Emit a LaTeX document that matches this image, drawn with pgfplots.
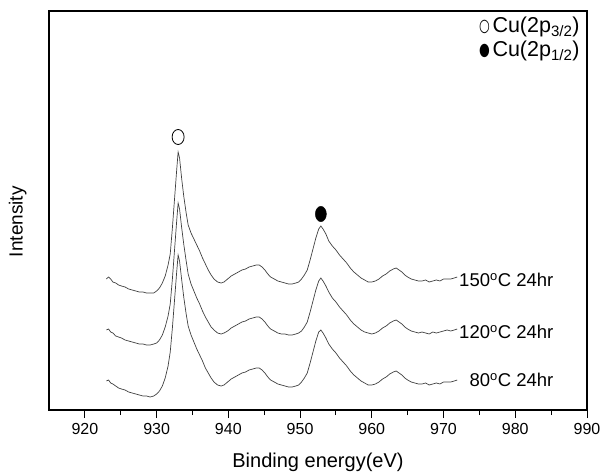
\documentclass[border=0pt]{standalone}
\usepackage{fontspec}
\setmainfont{Liberation Sans}
\newfontfamily\symfont{DejaVu Sans}
\usepackage{graphicx}
\usepackage{pgfplots}
\usepackage{pgfplotstable}
\pgfplotsset{compat=1.18}

% x = binding energy (eV); t/m/b = 150, 120, 80 C traces (arbitrary intensity, stacked)
\pgfplotstableread{
x     t   m   b
923.0 131 80 29
923.3 133 81 30
923.6 131 78 27
923.9 128 77 26
924.3 127 74 24
924.7 125 73 22
925.1 124 72 21
925.6 123 70 20
926.1 121 69 18
926.6 120 68 17
927.1 119 67 16
927.6 118 66 15
928.1 118 66 14
928.6 117 65 14
929.1 117 65 13
929.6 117 66 14
930.0 119 67 16
930.4 122 70 19
930.8 127 75 24
931.2 134 83 32
931.6 145 94 44
931.9 156 106 58
932.2 182 131 82
932.5 211 160 110
932.8 240 189 138
933.0 258 207 155
933.2 252 201 149
933.5 231 182 130
933.8 213 165 112
934.1 198 150 97
934.4 185 136 84
934.8 177 126 75
935.2 171 119 68
935.6 165 112 61
936.0 159 106 55
936.4 152 99 49
936.8 146 93 42
937.2 140 88 37
937.6 135 83 32
938.0 131 80 28
938.5 128 77 25
939.0 127 76 24
939.4 128 77 25
939.9 131 79 28
940.4 134 82 31
940.9 136 84 33
941.4 138 86 35
941.9 140 88 37
942.4 141 89 38
942.9 143 91 40
943.4 144 92 41
943.9 145 93 42
944.3 145 93 42
944.7 143 91 40
945.1 140 88 37
945.5 136 84 33
945.9 133 81 30
946.4 131 79 28
946.9 129 77 26
947.4 128 76 25
947.9 127 76 24
948.4 126 75 23
948.9 126 75 23
949.4 127 76 24
949.8 128 77 25
950.2 131 79 28
950.6 135 83 32
951.0 140 88 37
951.4 150 98 47
951.8 161 109 58
952.2 172 120 69
952.6 181 129 78
952.9 184 132 80
953.2 181 129 77
953.6 176 124 72
954.0 169 118 66
954.5 164 112 61
955.0 160 108 57
955.5 155 103 52
956.0 151 99 48
956.5 147 95 44
957.0 142 90 39
957.5 138 86 35
958.0 135 83 32
958.5 132 80 29
959.0 130 78 27
959.5 128 77 25
960.0 128 76 25
960.5 129 77 26
961.0 131 79 28
961.5 134 82 31
962.0 136 84 33
962.5 139 87 36
963.0 141 89 38
963.4 142 90 39
963.8 140 88 37
964.2 138 86 35
964.6 135 83 32
965.0 133 81 30
965.5 131 79 28
966.0 130 78 27
966.5 129 77 26
967.0 129 78 26
967.5 130 77 27
968.0 128 76 25
968.5 129 78 26
969.0 130 77 27
969.5 129 78 26
970.0 131 79 28
970.5 131 80 28
971.0 131 79 28
971.5 132 80 29
971.9 133 81 30
}\spectra

\newcommand{\labfont}{\fontsize{19}{23}\selectfont}

\begin{document}
\begin{tikzpicture}
\useasboundingbox (-49pt,-64pt) rectangle (552pt,410pt);
\begin{axis}[
  scale only axis, width=538pt, height=399pt,
  xmin=915, xmax=990, ymin=0, ymax=399,
  axis line style={line width=1.1pt},
  xtick={920,930,...,990}, minor x tick num=1,
  ytick=\empty,
  tick align=outside, xtick pos=bottom,
  major tick length=8pt, minor tick length=5pt,
  every tick/.style={black, line width=1pt},
  /pgf/number format/assume math mode=true,
  /pgf/number format/1000 sep={},
  xticklabel style={font=\fontsize{16}{19}\selectfont, yshift=-2pt},
  xlabel={Binding energy(eV)},
  xlabel style={font=\fontsize{20}{24}\selectfont, at={(axis description cs:0.5,-0.143)}, anchor=base},
  ylabel={Intensity},
  ylabel style={font=\labfont, at={(axis description cs:-0.058,0.472)}, anchor=center},
]
% peak markers
\addplot[only marks, mark=o, mark size=6pt, mark options={yscale=1.25, line width=0.8pt, black}] coordinates {(933.0,273)};
\addplot[only marks, mark=*, mark size=5.5pt, mark options={yscale=1.4, black, fill=black}] coordinates {(952.9,196)};

\addplot[black!75, line width=0.7pt] table[x=x, y=t] {\spectra};
\addplot[black!75, line width=0.7pt] table[x=x, y=m] {\spectra};
\addplot[black!75, line width=0.7pt] table[x=x, y=b] {\spectra};

% key, top right
\node[inner sep=0pt, font=\symfont\fontsize{13}{13}\selectfont] at (axis cs:975.7,383) {\scalebox{0.95}[1.35]{○}};
\node[inner sep=0pt, font=\symfont\fontsize{13}{13}\selectfont] at (axis cs:975.7,359) {\scalebox{0.95}[1.35]{●}};
\node[anchor=west, inner sep=0pt, font=\fontsize{21.5}{25}\selectfont] at (axis cs:976.8,383) {Cu(2p\textsubscript{3/2})};
\node[anchor=west, inner sep=0pt, font=\fontsize{21.5}{25}\selectfont] at (axis cs:976.8,359) {Cu(2p\textsubscript{1/2})};

\node[anchor=east, font=\fontsize{18.5}{22}\selectfont] at (axis cs:985.8,130) {150\textsuperscript{o}C 24hr};
\node[anchor=east, font=\fontsize{18.5}{22}\selectfont] at (axis cs:985.8,78) {120\textsuperscript{o}C 24hr};
\node[anchor=east, font=\fontsize{18.5}{22}\selectfont] at (axis cs:985.8,30) {80\textsuperscript{o}C 24hr};
\end{axis}
\end{tikzpicture}
\end{document}
